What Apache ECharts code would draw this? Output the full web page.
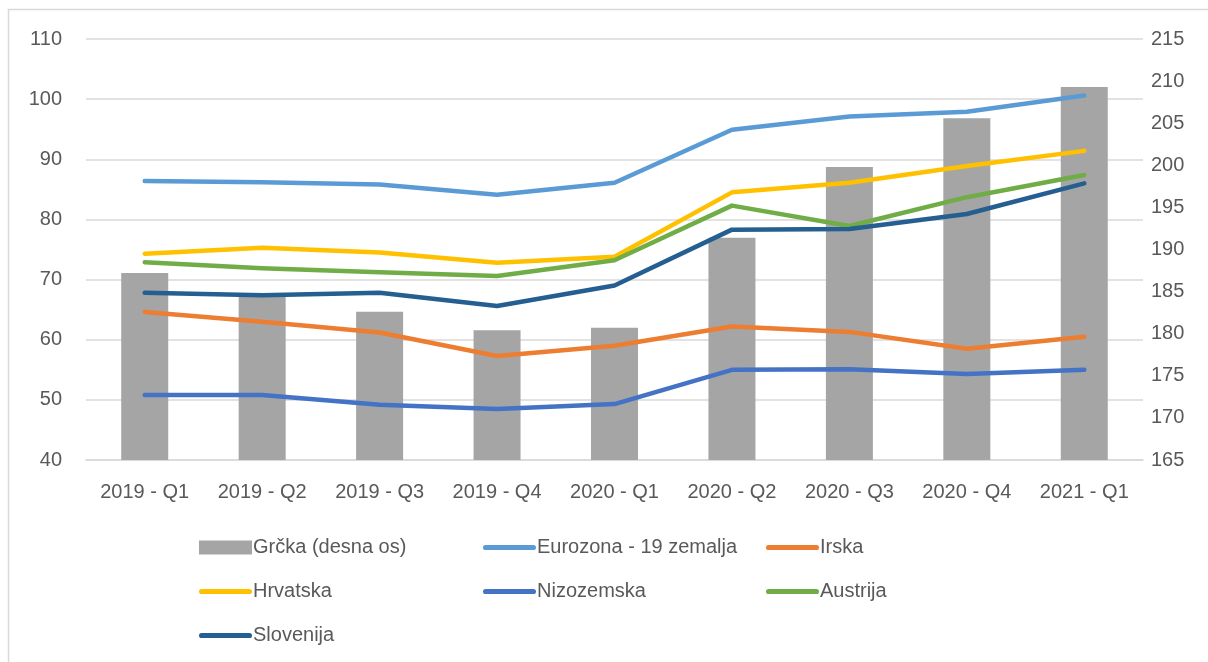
<!DOCTYPE html>
<html>
<head>
<meta charset="utf-8">
<script src="https://cdn.jsdelivr.net/npm/echarts@6/dist/echarts.min.js"></script>
<style>
html,body{margin:0;padding:0;background:#fff;}
#c{width:1208px;height:662px;}
</style>
</head>
<body>
<div id="c"></div>
<script>
const categories = ['2019 - Q1','2019 - Q2','2019 - Q3','2019 - Q4','2020 - Q1','2020 - Q2','2020 - Q3','2020 - Q4','2021 - Q1'];
const grcka      = [187.2, 184.8, 182.6, 180.4, 180.7, 191.4, 199.8, 205.6, 209.3];
const eurozona   = [86.4, 86.2, 85.8, 84.1, 86.1, 94.9, 97.1, 97.9, 100.6];
const irska      = [64.6, 63.0, 61.2, 57.3, 59.0, 62.2, 61.3, 58.5, 60.5];
const hrvatska   = [74.3, 75.3, 74.5, 72.8, 73.8, 84.5, 86.1, 88.9, 91.4];
const nizozemska = [50.8, 50.8, 49.2, 48.5, 49.3, 55.0, 55.1, 54.3, 55.0];
const austrija   = [72.9, 71.9, 71.2, 70.6, 73.2, 82.3, 78.9, 83.7, 87.4];
const slovenija  = [67.8, 67.4, 67.8, 65.6, 69.0, 78.3, 78.4, 80.9, 86.0];
const leftTicks  = {min: 40, max: 110, interval: 10};
const rightTicks = {min: 165, max: 215, interval: 5};

const FONT = "'Liberation Sans', Arial, sans-serif";
const FS = 20;
const TXT = '#595959';
const LINE_ICON = 'path://M2.5,0 H49.5 A2.5,2.5 0 0 1 49.5,5 H2.5 A2.5,2.5 0 0 1 2.5,0 Z';
const chart = echarts.init(document.getElementById('c'), null, {renderer: 'canvas'});

function lineSeries(name, data, color) {
  return {
    name: name, type: 'line', yAxisIndex: 0, data: data,
    symbol: 'none', smooth: false,
    lineStyle: {color: color, width: 4.5, cap: 'round', join: 'round'},
    itemStyle: {color: color},
    z: 3
  };
}
function lineLegend(name) { return {name: name, icon: LINE_ICON}; }

const legendBase = {
  orient: 'vertical', top: 532, itemWidth: 53, itemHeight: 14, itemGap: 23,
  textStyle: {color: TXT, fontSize: FS, fontFamily: FONT, lineHeight: 21, padding: [0, 0, 0, -4]},
  selectedMode: false
};

chart.setOption({
  animation: false,
  backgroundColor: '#fff',
  graphic: [{
    type: 'rect', shape: {x: 8.5, y: 9.5, width: 1210, height: 660},
    style: {fill: 'none', stroke: '#d9d9d9', lineWidth: 1.5}, silent: true
  }],
  grid: {left: 86, right: 65, top: 39, bottom: 202, containLabel: false},
  legend: [
    Object.assign({}, legendBase, {left: 194, data: [
      {name: 'Grčka (desna os)', icon: 'rect', itemStyle: {color: '#a5a5a5'}},
      lineLegend('Hrvatska'), lineLegend('Slovenija')]}),
    Object.assign({}, legendBase, {left: 478, data: [lineLegend('Eurozona - 19 zemalja'), lineLegend('Nizozemska')]}),
    Object.assign({}, legendBase, {left: 761, data: [lineLegend('Irska'), lineLegend('Austrija')]})
  ],
  xAxis: {
    type: 'category', data: categories, boundaryGap: true,
    axisLine: {lineStyle: {color: '#d9d9d9', width: 1.5}},
    axisTick: {show: false},
    axisLabel: {color: TXT, fontSize: FS, fontFamily: FONT, margin: 22, interval: 0}
  },
  yAxis: [
    {
      type: 'value', position: 'left', min: leftTicks.min, max: leftTicks.max, interval: leftTicks.interval,
      axisLine: {show: false}, axisTick: {show: false},
      splitLine: {lineStyle: {color: '#d9d9d9', width: 1.5}},
      axisLabel: {color: TXT, fontSize: FS, fontFamily: FONT, margin: 24}
    },
    {
      type: 'value', position: 'right', min: rightTicks.min, max: rightTicks.max, interval: rightTicks.interval,
      axisLine: {show: false}, axisTick: {show: false}, splitLine: {show: false},
      axisLabel: {color: TXT, fontSize: FS, fontFamily: FONT, margin: 8}
    }
  ],
  series: [
    {name: 'Grčka (desna os)', type: 'bar', yAxisIndex: 1, data: grcka, barWidth: 47,
     itemStyle: {color: '#a5a5a5'}, z: 2},
    lineSeries('Eurozona - 19 zemalja', eurozona, '#5b9bd5'),
    lineSeries('Irska', irska, '#ed7d31'),
    lineSeries('Hrvatska', hrvatska, '#ffc000'),
    lineSeries('Nizozemska', nizozemska, '#4472c4'),
    lineSeries('Austrija', austrija, '#70ad47'),
    lineSeries('Slovenija', slovenija, '#255e91')
  ]
});
</script>
</body>
</html>
